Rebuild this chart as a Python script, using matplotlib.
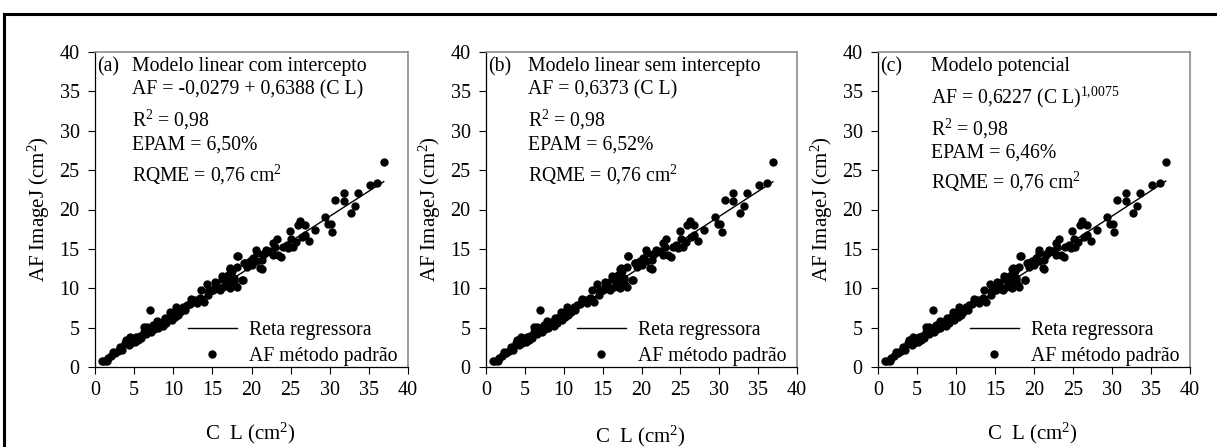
import numpy as np
import matplotlib
matplotlib.use("Agg")
import matplotlib.pyplot as plt
from matplotlib.lines import Line2D

plt.rcParams["font.family"] = ["Liberation Serif", "DejaVu Serif"]
plt.rcParams["mathtext.fontset"] = "custom"
plt.rcParams["mathtext.rm"] = "Liberation Serif"
plt.rcParams["mathtext.it"] = "Liberation Serif:italic"
plt.rcParams["mathtext.bf"] = "Liberation Serif:bold"

# =========================
# Data (C L vs AF ImageJ), same points in all panels
# =========================
cl = [0.9, 1.2, 1.5, 1.7, 2.1, 2.3, 2.6, 3.0, 3.2, 3.5, 3.8, 4.0, 4.3, 4.5, 4.6,
      4.9, 5.1, 5.3, 5.5, 5.7, 5.9, 6.2, 6.2, 6.5, 6.6, 6.8, 7.0, 7.0, 7.2, 7.4,
      7.6, 7.9, 8.0, 8.3, 8.5, 8.7, 8.9, 9.1, 9.4, 9.6, 9.8, 10.0, 10.2, 10.4, 10.6,
      10.9, 11.1, 11.3, 11.5, 11.7, 12.1, 12.3, 12.4, 12.8, 13.0, 13.4, 13.6, 13.6, 13.9, 14.3,
      14.5, 14.5, 14.9, 15.1, 15.3, 15.3, 15.5, 15.8, 16.0, 16.2, 16.2, 16.4, 16.6, 16.8, 17.0,
      17.0, 17.2, 17.2, 17.2, 17.3, 17.5, 17.7, 17.7, 17.9, 18.1, 18.1, 18.2, 18.3, 18.8, 18.9,
      19.1, 19.2, 19.4, 19.8, 20.0, 20.2, 20.6, 20.6, 20.7, 21.1, 21.3, 21.3, 21.5, 21.5, 21.9,
      22.3, 22.8, 22.8, 23.0, 23.2, 23.4, 23.8, 24.0, 24.5, 24.7, 24.7, 24.9, 25.1, 25.3, 25.7,
      25.9, 26.2, 26.4, 26.8, 26.8, 27.3, 28.1, 29.4, 29.8, 30.1, 30.3, 30.7, 31.8, 31.8, 32.7,
      33.2, 33.6, 35.1, 36.1, 36.9]
af = [0.8, 0.8, 0.8, 1.1, 1.4, 1.9, 1.8, 2.0, 2.5, 2.2, 3.1, 3.4, 2.8, 3.8, 3.0,
      3.6, 3.2, 3.8, 3.4, 4.0, 3.7, 4.5, 5.1, 4.2, 5.1, 4.6, 4.9, 7.2, 4.4, 5.3,
      4.8, 5.9, 5.0, 5.3, 5.7, 5.2, 6.2, 5.6, 6.4, 7.0, 6.0, 6.8, 6.3, 7.6, 6.6,
      7.0, 7.3, 7.6, 7.2, 7.9, 8.0, 8.6, 8.5, 8.5, 8.1, 8.8, 9.8, 8.6, 8.3, 10.6,
      9.1, 9.6, 9.8, 9.8, 10.1, 10.8, 10.7, 9.9, 9.8, 11.5, 11.2, 10.2, 11.4, 10.6, 10.4,
      11.7, 12.5, 10.8, 10.0, 12.6, 12.2, 11.3, 11.0, 10.4, 10.2, 12.7, 14.1, 14.1, 11.0, 11.0,
      13.2, 13.2, 12.7, 13.4, 13.0, 13.8, 13.4, 14.8, 14.5, 12.6, 12.5, 13.6, 14.4, 14.2, 14.9,
      14.7, 14.2, 15.7, 15.3, 16.2, 14.2, 14.0, 15.2, 15.5, 15.1, 15.2, 17.3, 16.2, 15.3, 15.9,
      18.0, 18.6, 16.5, 16.8, 18.0, 16.0, 17.4, 19.1, 18.2, 18.2, 17.2, 21.2, 22.1, 21.1, 19.6,
      20.4, 22.1, 23.1, 23.4, 26.0]

# fitted lines, one per panel
b0_lin, b1_lin = -0.0279, 0.6388
b1_orig = 0.6373
a_pot, b_pot = 0.6227, 1.0075

panel_labels = ["(a)", "(b)", "(c)"]
model_names = ["Modelo linear com intercepto", "Modelo linear sem intercepto", "Modelo potencial"]
equations = ["AF = -0,0279 + 0,6388 (C L)", "AF = 0,6373 (C L)", r"AF = 0,6227 (C L)$^{1{,}0075}$"]
r2_txt = r"R$^2$ = 0,98"
epam_txt = ["EPAM = 6,50%", "EPAM = 6,52%", "EPAM = 6,46%"]
rqme_txt = r"RQME = 0,76 cm$^2$"

ticks = [0, 5, 10, 15, 20, 25, 30, 35, 40]

fig = plt.figure(figsize=(12.17, 4.47), dpi=100)

# frame lines (top and left) of the original figure box
fig.add_artist(Line2D([4 / 1217, 1], [1 - 14 / 447, 1 - 14 / 447], color="black", lw=2.2))
fig.add_artist(Line2D([4 / 1217, 4 / 1217], [0, 1 - 14 / 447], color="black", lw=2.2))

lefts = [95, 486, 878]
widths = [313, 311, 312]
name_x = [4.7, 5.4, 6.8]
xlab_y = [-0.17, -0.18, -0.17]
# y positions (data units) of the text lines
text_y = [
    [38.1, 35.2, 31.4, 28.2, 24.4],
    [38.1, 35.2, 31.4, 28.2, 24.4],
    [38.1, 34.2, 30.2, 27.2, 23.5],
]
fs = 14.2

x = np.array(cl)
y = np.array(af)
xs = np.linspace(x.min(), x.max(), 100)
fits = [b0_lin + b1_lin * xs, b1_orig * xs, a_pot * xs ** b_pot]

for i in range(3):
    ax = fig.add_axes([lefts[i] / 1217, 80 / 447, widths[i] / 1217, 315 / 447])

    ax.plot(xs, fits[i], color="black", lw=1.0, label="Reta regressora")
    ax.plot(x, y, "o", color="black", ms=5, ls="none", label="AF método padrão")

    ax.set_xlim(0, 40)
    ax.set_ylim(0, 40)
    ax.set_xticks(ticks)
    ax.set_yticks(ticks)
    ax.tick_params(direction="out", length=5, width=0.8, labelsize=14.5)
    ax.tick_params(axis="y", pad=6)
    ax.tick_params(axis="x", pad=5)

    for side in ["top", "right"]:
        ax.spines[side].set_color("#8c8c8c")
        ax.spines[side].set_linewidth(1.2)
    for side in ["left", "bottom"]:
        ax.spines[side].set_color("black")
        ax.spines[side].set_linewidth(0.9)

    ax.set_ylabel(r"AF ImageJ (cm$^2$)", fontsize=15)
    ax.yaxis.set_label_coords(-0.137, 0.5)
    ax.set_xlabel(r"C  L (cm$^2$)", fontsize=15)
    ax.xaxis.set_label_coords(0.495, xlab_y[i])

    ty = text_y[i]
    ax.text(0.3, ty[0], panel_labels[i], fontsize=fs, va="center", ha="left")
    ax.text(name_x[i], ty[0], model_names[i], fontsize=fs, va="center", ha="left")
    ax.text(name_x[i], ty[1], equations[i], fontsize=fs, va="center", ha="left")
    ax.text(name_x[i], ty[2], r2_txt, fontsize=fs, va="center", ha="left")
    ax.text(name_x[i], ty[3], epam_txt[i], fontsize=fs, va="center", ha="left")
    ax.text(name_x[i], ty[4], rqme_txt, fontsize=fs, va="center", ha="left")

    ax.legend(loc="lower right", bbox_to_anchor=(1.0, -0.03), frameon=False,
              fontsize=fs, handlelength=2.5, handletextpad=0.6,
              borderaxespad=0.15, labelspacing=0.35)

fig.savefig("out.png", dpi=100)
